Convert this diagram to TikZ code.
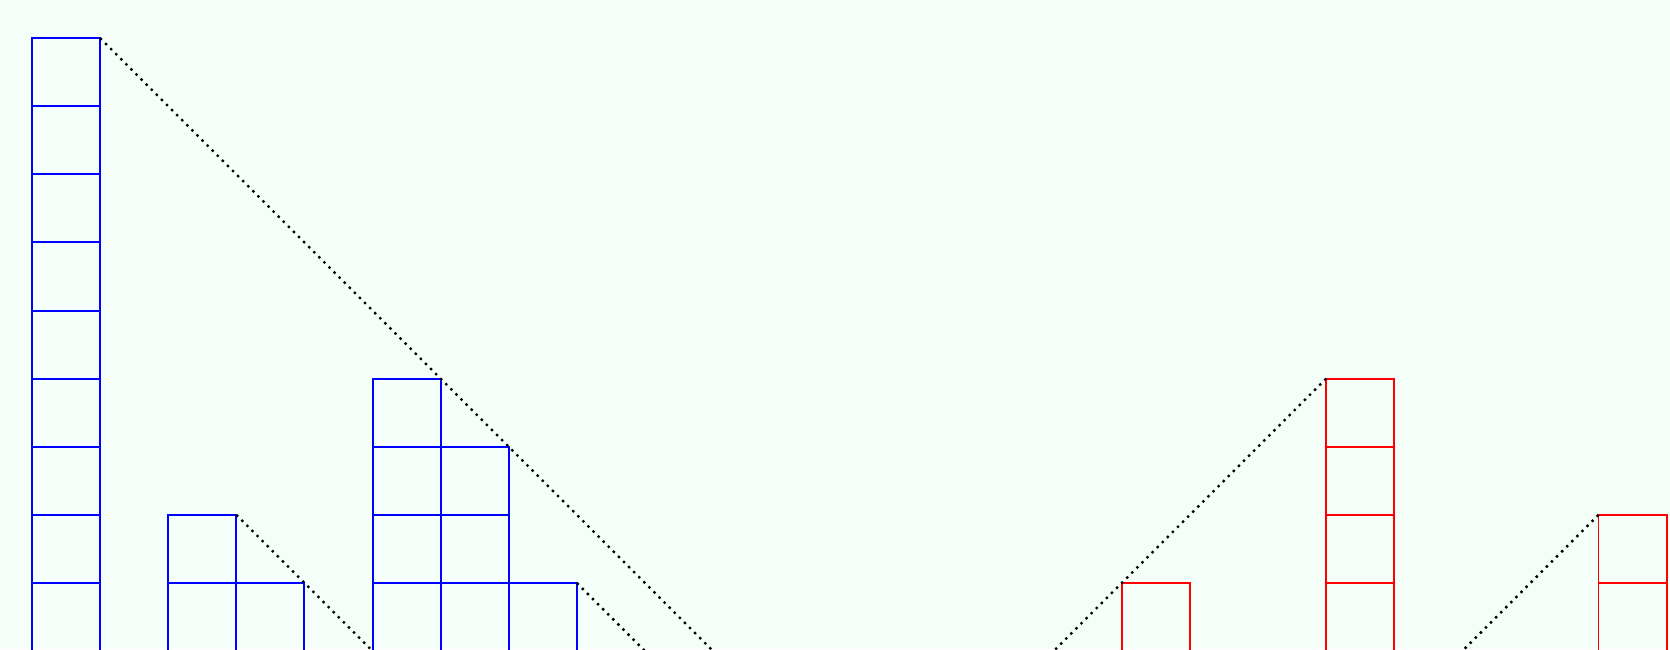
\documentclass[tikz,border=0pt]{standalone}
\usetikzlibrary{calc}
\definecolor{bgmint}{RGB}{245,255,250}

\begin{document}
\begin{tikzpicture}[x=1cm, y=1cm]
\tikzset{
  bluecell/.style={draw=blue, line width=0.8pt},
  redcell/.style={draw=red, line width=0.8pt},
  guide/.style={black, line width=1pt, dash pattern=on 1pt off 2pt}
}
\fill[bgmint] (-0.47,0.03) rectangle (24.05,9.56);
\useasboundingbox (-0.47,0.03) rectangle (24.05,9.56);
% bars on the left
\foreach \x/\h in {0/9, 2/2, 3/1, 5/4, 6/3, 7/1} {
    \foreach \y in {1,...,\h} {
        \draw[bluecell] (\x,\y-1) rectangle ++(1,1);
    }
}
% bars on the right
\foreach \x/\h in {16/1, 19/4, 23/2} {
    \foreach \y in {1,...,\h} {
        \draw[redcell] (\x,\y-1) rectangle ++(1,1);
    }
}
% ends of the dotted guides
\coordinate (topA) at (1,9);  \coordinate (footA) at (10,0);
\coordinate (topB) at (3,2);  \coordinate (footB) at (5,0);
\coordinate (topC) at (8,1);  \coordinate (footC) at (9,0);
\coordinate (topD) at (19,4); \coordinate (footD) at (15,0);
\coordinate (topE) at (23,2); \coordinate (footE) at (21,0);
\foreach \n in {A,B,C,D,E} {
    \draw[guide] (top\n) -- (foot\n);
}
\end{tikzpicture}
\end{document}
